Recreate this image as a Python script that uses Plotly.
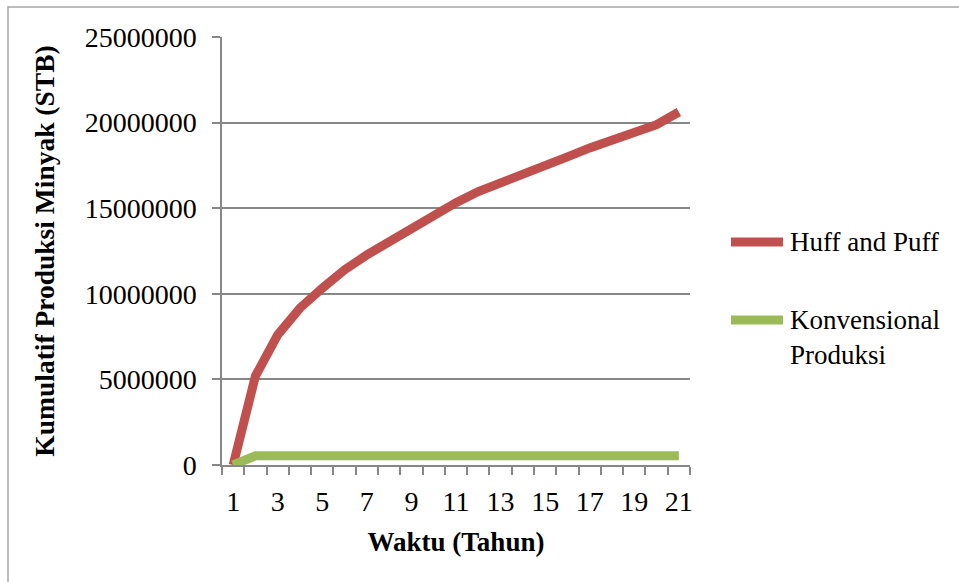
import plotly.graph_objects as go

# Cumulative oil production per year
tahun = list(range(1, 22))
huff_and_puff = [0, 5200000, 7600000, 9170000, 10330000, 11400000, 12270000,
                 13050000, 13880000, 14540000, 15320000, 15970000, 16510000,
                 17030000, 17560000, 18000000, 18520000, 19010000, 19420000,
                 19880000, 20620000]
konvensional = [0] + [540000] * 20

x_ticks = list(range(1, 22, 2))
y_ticks = [0, 5000000, 10000000, 15000000, 20000000, 25000000]

RED = "#C0504D"
GREEN = "#9BBB59"
GRID = "#878787"
FONT = "Liberation Serif"

fig = go.Figure()
fig.add_trace(go.Scatter(x=tahun, y=huff_and_puff, mode="lines",
                         name="Huff and Puff",
                         line=dict(color=RED, width=9)))
fig.add_trace(go.Scatter(x=tahun, y=konvensional, mode="lines",
                         name="Konvensional Produksi",
                         line=dict(color=GREEN, width=9)))

W, H = 959, 582
L, R, T, B = 222, 269, 37, 117
pw, ph = W - L - R, H - T - B


def px_x(x):
    return (x - L) / pw


def px_y(y):
    return (H - B - y) / ph


fig.update_layout(
    width=W, height=H,
    margin=dict(l=L, r=R, t=T, b=B),
    paper_bgcolor="white", plot_bgcolor="white",
    showlegend=False,
    font=dict(family=FONT, color="black", size=28),
)

fig.update_xaxes(
    range=[0.5, 21.5],
    tickvals=x_ticks, ticktext=[str(v) for v in x_ticks],
    ticks="outside", ticklen=11, tickcolor="rgba(0,0,0,0)",
    minor=dict(tick0=0.5, dtick=1, ticks="outside", ticklen=8,
               tickcolor=GRID, tickwidth=1.5, showgrid=False),
    showline=True, linecolor=GRID, linewidth=1.5,
    showgrid=False, zeroline=False,
    tickfont=dict(family=FONT, size=28),
    title=dict(text="<b>Waktu (Tahun)</b>", standoff=16,
               font=dict(family=FONT, size=27)),
)

fig.update_yaxes(
    range=[0, 25000000],
    tickvals=y_ticks, ticktext=[str(v) for v in y_ticks],
    ticks="outside", ticklen=8, tickcolor=GRID, tickwidth=1.5,
    ticklabelstandoff=10,
    showline=True, linecolor=GRID, linewidth=1.5,
    showgrid=True, gridcolor=GRID, gridwidth=1.5, zeroline=False,
    tickfont=dict(family=FONT, size=28),
    title=dict(text="<b>Kumulatif Produksi Minyak (STB)</b>", standoff=22,
               font=dict(family=FONT, size=27.5)),
)

# Chart frame
fig.add_shape(type="rect", xref="paper", yref="paper",
              x0=px_x(8), x1=px_x(975), y0=px_y(600), y1=px_y(7),
              line=dict(color="#A6A6A6", width=1.5), layer="below")

# Legend
legend_items = [("Huff and Puff", RED, 242),
                ("Konvensional<br>Produksi", GREEN, 320)]
for label, color, yc in legend_items:
    fig.add_shape(type="line", xref="paper", yref="paper",
                  x0=px_x(731), x1=px_x(783), y0=px_y(yc), y1=px_y(yc),
                  line=dict(color=color, width=9))
    fig.add_annotation(xref="paper", yref="paper",
                       x=px_x(788), y=px_y(yc - 17),
                       xanchor="left", yanchor="top", align="left",
                       text=label, showarrow=False,
                       font=dict(family=FONT, size=27, color="black"))

fig.write_html("out.html")
